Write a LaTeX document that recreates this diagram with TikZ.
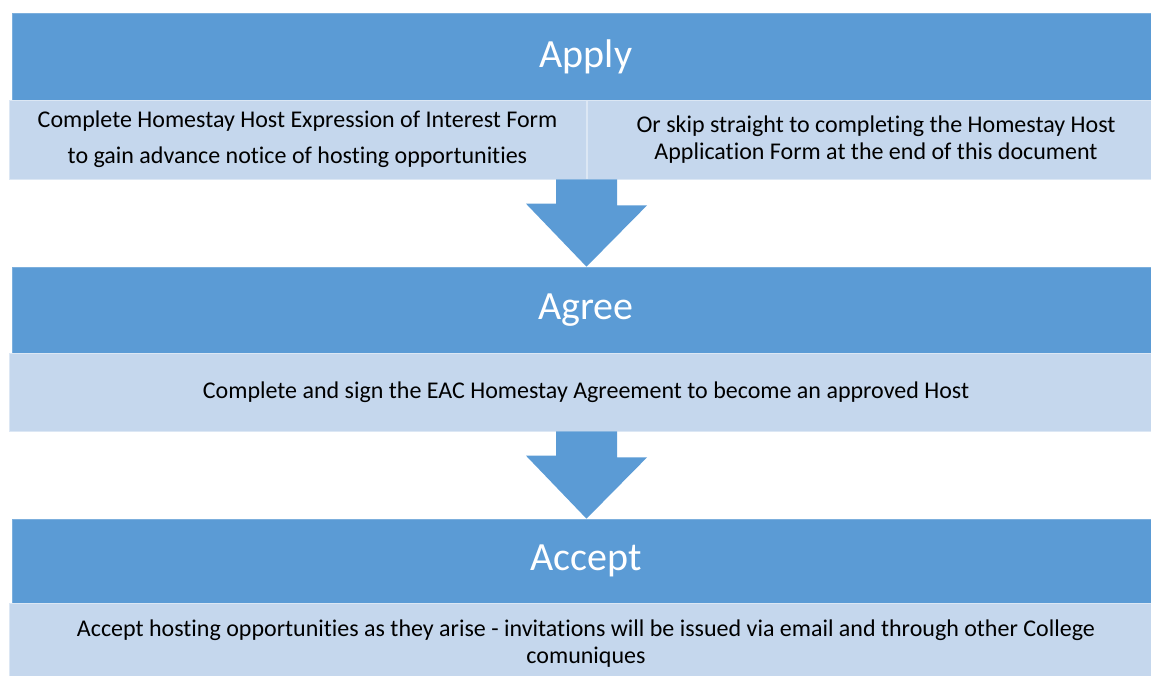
\documentclass[tikz,border=0pt]{standalone}
\usepackage{fontspec}
\setmainfont[Ligatures=NoCommon]{Carlito}
\usepackage{tikz}
\usetikzlibrary{calc}
\usepackage{xcolor}
\definecolor{stepblue}{RGB}{91,155,213}
\definecolor{notefill}{RGB}{197,215,237}

\begin{document}
\begin{tikzpicture}[x=1pt, y=-1pt,
    head/.style={fill=stepblue, draw=stepblue!80!white, line width=0.6pt, text=white,
        minimum width=1148pt, minimum height=87pt, inner sep=0pt, font=\fontsize{40}{44}\selectfont},
    note/.style={fill=notefill, draw=notefill!60!white, line width=0.8pt, text=black,
        inner sep=0pt, align=center, font=\fontsize{24}{27}\selectfont},
    downarrow/.style={fill=stepblue}]
    \useasboundingbox (0,0) rectangle (1151,675);
    % stage 1
    \node[head] (apply) at (586,56.5) {Apply};
    \node[note, minimum width=577pt, minimum height=79pt, font=\fontsize{24}{36}\selectfont] (interest) at (297.5,139.5)
        {Complete Homestay Host Expression of Interest Form\\to gain advance notice of hosting opportunities};
    \node[note, minimum width=578pt, minimum height=79pt] (skip) at (876,139.5)
        {Or skip straight to completing the Homestay Host\\Application Form at the end of this document};
    % stage 2
    \node[head, minimum height=86pt] (agree) at (586,310) {Agree};
    \node[note, minimum width=1154pt, minimum height=78pt] (sign) at (586,392)
        {Complete and sign the EAC Homestay Agreement to become an approved Host};
    % stage 3
    \node[head, minimum height=84pt] (accept) at (586,561) {Accept};
    \node[note, minimum width=1154pt, minimum height=80pt, anchor=north] (invite) at (586,603)
        {Accept hosting opportunities as they arise - invitations will be issued via email and through other College\\comuniques};
    % arrows between stages
    \fill[downarrow] (interest.south -| 556,0) -- ++(61,0) -- ++(0,26) -- ++(30,0)
        -- (agree.north -| 586.5,0) -- ++(-60.5,-63) -- ++(30,0) -- cycle;
    \fill[downarrow] (sign.south -| 556,0) -- ++(61,0) -- ++(0,26) -- ++(30,0)
        -- (accept.north -| 586.5,0) -- ++(-60.5,-63) -- ++(30,0) -- cycle;
\end{tikzpicture}
\end{document}
